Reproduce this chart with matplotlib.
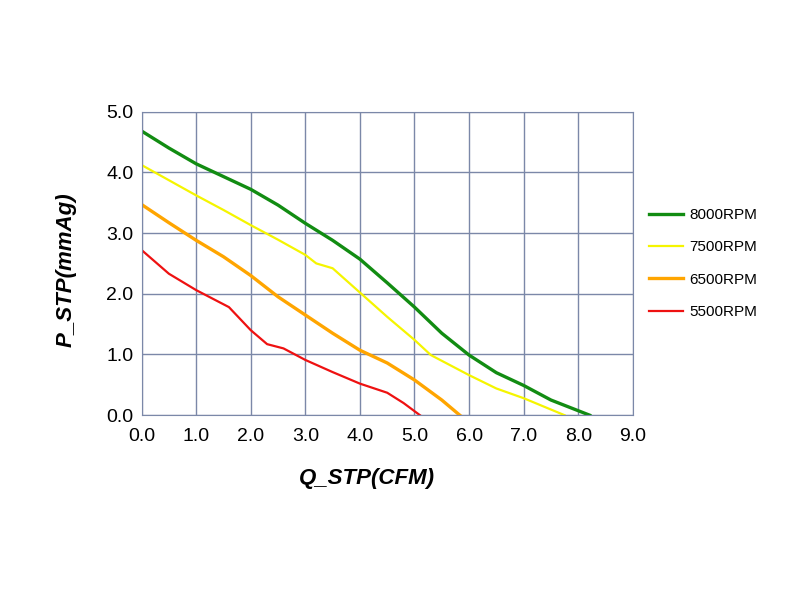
import matplotlib.pyplot as plt
from matplotlib import font_manager

# pick a condensed sans if available
names = set(f.name for f in font_manager.fontManager.ttflist)
fam = 'Liberation Sans Narrow' if 'Liberation Sans Narrow' in names else 'Liberation Sans'
plt.rcParams['font.family'] = [fam, 'DejaVu Sans']

# fan curves: airflow Q (CFM) vs static pressure P (mmAq)
q_8000 = [0.0, 0.5, 1.0, 1.5, 2.0, 2.5, 3.0, 3.5, 4.0, 4.5, 5.0, 5.5, 6.0, 6.5, 7.0, 7.5, 8.21]
p_8000 = [4.68, 4.40, 4.14, 3.93, 3.72, 3.46, 3.16, 2.88, 2.57, 2.18, 1.78, 1.35, 0.99, 0.70, 0.49, 0.25, 0.0]

q_7500 = [0.0, 0.5, 1.0, 1.5, 2.0, 2.5, 3.0, 3.2, 3.5, 4.0, 4.5, 5.0, 5.3, 6.0, 6.5, 7.0, 7.75]
p_7500 = [4.12, 3.87, 3.62, 3.38, 3.13, 2.89, 2.64, 2.50, 2.42, 2.02, 1.62, 1.24, 0.99, 0.66, 0.44, 0.28, 0.0]

q_6500 = [0.0, 0.5, 1.0, 1.5, 2.0, 2.5, 3.0, 3.5, 4.0, 4.5, 5.0, 5.5, 5.83]
p_6500 = [3.47, 3.17, 2.88, 2.61, 2.30, 1.95, 1.65, 1.35, 1.07, 0.86, 0.58, 0.25, 0.0]

q_5500 = [0.0, 0.5, 1.0, 1.6, 2.0, 2.3, 2.6, 3.0, 3.5, 4.0, 4.5, 4.8, 5.1]
p_5500 = [2.72, 2.33, 2.06, 1.78, 1.40, 1.17, 1.10, 0.91, 0.71, 0.52, 0.37, 0.20, 0.0]

fig = plt.figure(figsize=(8, 6), dpi=100)
ax = fig.add_axes([0.177, 0.308, 0.614, 0.506])

ax.plot(q_8000, p_8000, color='#128c12', lw=2.4, label='8000RPM')
ax.plot(q_7500, p_7500, color='#f5f500', lw=1.6, label='7500RPM')
ax.plot(q_6500, p_6500, color='#ffa500', lw=2.4, label='6500RPM')
ax.plot(q_5500, p_5500, color='#ee1111', lw=1.6, label='5500RPM')

ax.set_xlim(0, 9)
ax.set_ylim(0, 5)
ax.set_xticks([i for i in range(10)])
ax.set_yticks([i for i in range(6)])
ax.set_xticklabels(['%.1f' % i for i in range(10)], fontsize=14)
ax.set_yticklabels(['%.1f' % i for i in range(6)], fontsize=14)
ax.tick_params(axis='x', length=0, pad=9)
ax.tick_params(axis='y', length=0, pad=6)
ax.grid(True, color='#7b88a8', lw=1)
for s in ax.spines.values():
    s.set_color('#7b88a8')

fig.text(0.459, 0.203, 'Q_STP(CFM)', fontsize=16, fontweight='bold', fontstyle='italic',
         ha='center', va='center', family=['Liberation Sans', 'DejaVu Sans'])
fig.text(0.083, 0.55, 'P_STP(mmAg)', fontsize=16, fontweight='bold', fontstyle='italic',
         ha='center', va='center', rotation=90, family=['Liberation Sans', 'DejaVu Sans'])

ax.legend(loc='center left', bbox_to_anchor=(1.005, 0.50), frameon=False, fontsize=11,
          handlelength=2.2, labelspacing=1.2, handletextpad=0.45)

fig.savefig('out.png', dpi=100)
